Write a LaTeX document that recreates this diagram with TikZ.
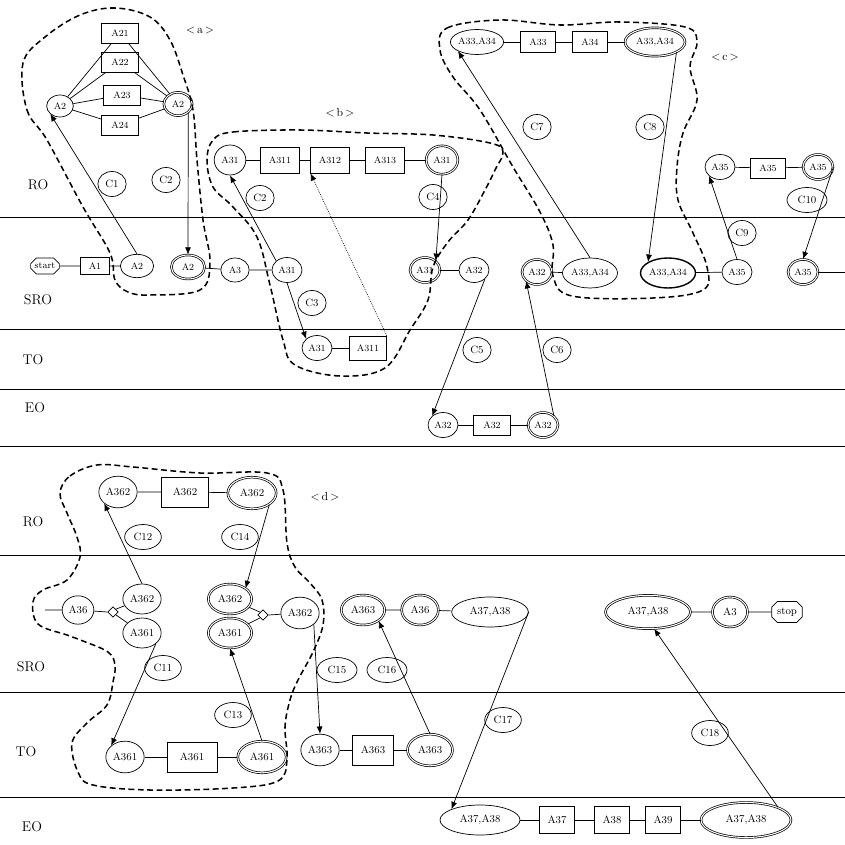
\documentclass[tikz,border=0pt]{standalone}
\usepackage{tikz}
\usetikzlibrary{arrows.meta, shapes.geometric, shapes.misc}

\tikzset{
  st/.style={draw, ellipse, inner sep=0pt, minimum width=0.9cm, minimum height=0.75cm, font=\footnotesize},
  dst/.style={st, double, double distance=0.9pt},
  act/.style={draw, rectangle, inner sep=1pt, minimum width=1.15cm, minimum height=0.65cm, font=\footnotesize},
  term/.style={draw, chamfered rectangle, chamfered rectangle xsep=2pt, inner sep=1.5pt, font=\footnotesize},
  cnd/.style={draw, ellipse, inner sep=0pt, minimum width=0.85cm, minimum height=0.75cm, font=\small},
  jn/.style={draw, diamond, inner sep=0pt, minimum size=0.32cm},
  lane/.style={font=\large},
  grp/.style={font=\normalsize},
  bnd/.style={line width=1.3pt, dash pattern=on 5pt off 3pt},
  cnx/.style={->, semithick},
  big/.style={minimum width=1.15cm, minimum height=0.95cm, font=\small},
  bigact/.style={minimum width=1.4cm, minimum height=0.9cm, font=\small},
}

\begin{document}
\begin{tikzpicture}[x=0.03cm, y=-0.03cm, semithick, >={Latex[length=2.2mm, width=1.8mm]}]
  \useasboundingbox (0,0) rectangle (845,844);

  % swim lanes
  \foreach \yy in {217, 329, 389, 446, 555, 692, 797}
    \draw[semithick] (0,\yy) -- (845,\yy);

  \node[lane] (ro1) at (38,185) {RO};
  \node[lane] (sro1) at (38,300) {SRO};
  \node[lane] (to1) at (33,360) {TO};
  \node[lane] (eo1) at (35,408) {EO};
  \node[lane] (ro2) at (33,522) {RO};
  \node[lane] (sro2) at (31,667) {SRO};
  \node[lane] (to2) at (26,752) {TO};
  \node[lane] (eo2) at (32,827) {EO};

  % upper part, SRO
  \node[term] (start) at (45,266) {start};
  \node[act, minimum width=0.85cm, minimum height=0.52cm] (a1) at (95,266) {A1};
  \node[st, minimum width=1cm, minimum height=0.7cm] (a2s) at (137,266) {A2};
  \node[dst, minimum width=1cm, minimum height=0.72cm] (a2ds) at (188,267) {A2};
  \node[st, minimum width=0.85cm, minimum height=0.72cm] (a3s) at (235,270) {A3};
  \node[st] (a31s) at (287,270) {A31};
  \node[dst] (a31ds) at (425,270) {A31};
  \node[st] (a32s) at (474,270) {A32};
  \node[dst] (a32ds) at (537,272) {A32};
  \node[st, minimum width=1.65cm, minimum height=0.9cm] (a3334s) at (590,273) {A33,A34};
  \node[st, very thick, minimum width=1.65cm, minimum height=0.9cm] (a3334ts) at (668,273) {A33,A34};
  \node[st] (a35s) at (737,272) {A35};
  \node[dst] (a35ds) at (803,272) {A35};
  \coordinate (out1) at (845,272);

  \draw (start) -- (a1) -- (a2s);
  \draw (a2ds) -- (a3s) -- (a31s);
  \draw (a31ds) -- (a32s);
  \draw (a32ds) -- (a3334s);
  \draw (a3334ts) -- (a35s);
  \draw (a35ds) -- (out1);

  % upper part, RO
  \node[st, minimum width=0.8cm, minimum height=0.66cm] (a2r) at (60,106) {A2};
  \node[act, minimum width=1.1cm, minimum height=0.6cm] (a21) at (120,33) {A21};
  \node[act, minimum width=1.1cm, minimum height=0.6cm] (a22) at (120,62) {A22};
  \node[act, minimum width=1.1cm, minimum height=0.6cm] (a23) at (122,95) {A23};
  \node[act, minimum width=1.1cm, minimum height=0.6cm] (a24) at (120,125) {A24};
  \node[dst, minimum width=0.85cm, minimum height=0.7cm] (a2dr) at (178,104) {A2};
  \foreach \n in {a21, a22, a23, a24}
    \draw (a2r) -- (\n) -- (a2dr);

  \node[st, minimum width=0.95cm, minimum height=0.9cm] (a31r) at (230,160) {A31};
  \node[act, minimum height=0.78cm] (a311r) at (280,160) {A311};
  \node[act, minimum height=0.78cm] (a312r) at (330,160) {A312};
  \node[act, minimum height=0.78cm] (a313r) at (385,160) {A313};
  \node[dst, minimum width=0.95cm, minimum height=0.85cm] (a31dr) at (442,160) {A31};
  \draw (a31r) -- (a311r) -- (a312r) -- (a313r) -- (a31dr);

  \node[st, minimum width=1.5cm, minimum height=0.75cm] (a3334r) at (477,42) {A33,A34};
  \node[act, minimum width=1.05cm, minimum height=0.65cm] (a33r) at (538,42) {A33};
  \node[act, minimum width=1.05cm, minimum height=0.65cm] (a34r) at (590,42) {A34};
  \node[dst, minimum width=1.8cm, minimum height=0.85cm] (a3334dr) at (655,42) {A33,A34};
  \draw (a3334r) -- (a33r) -- (a34r) -- (a3334dr);

  \node[st] (a35r) at (720,167) {A35};
  \node[act, minimum width=1.05cm, minimum height=0.6cm] (a35b) at (768,168) {A35};
  \node[dst] (a35dr) at (818,167) {A35};
  \draw (a35r) -- (a35b) -- (a35dr);

  % upper part, TO and EO
  \node[st] (a31t) at (317,348) {A31};
  \node[act, minimum width=1.1cm, minimum height=0.72cm] (a311t) at (368,348) {A311};
  \draw (a31t) -- (a311t);
  \node[st] (a32e) at (443,425) {A32};
  \node[act, minimum width=1.1cm, minimum height=0.6cm] (a32b) at (492,425) {A32};
  \node[dst] (a32de) at (543,425) {A32};
  \draw (a32e) -- (a32b) -- (a32de);

  % upper part, conditions
  \node[cnd] (c1) at (112,184) {C1};
  \node[cnd] (c2) at (166,180) {C2};
  \node[cnd] (c2b) at (260,198) {C2};
  \node[cnd] (c3) at (312,303) {C3};
  \node[cnd] (c4) at (433,197) {C4};
  \node[cnd] (c5) at (477,350) {C5};
  \node[cnd] (c6) at (557,350) {C6};
  \node[cnd] (c7) at (537,127) {C7};
  \node[cnd] (c8) at (650,127) {C8};
  \node[cnd] (c9) at (742,233) {C9};
  \node[cnd, minimum width=1.2cm] (c10) at (807,200) {C10};

  \draw[cnx] (a2s.north) -- (a2r.south west);
  \draw[cnx] (a2dr.south east) -- (a2ds.north);
  \draw[cnx] (a31s.north west) -- (a31r.south);
  \draw[cnx] (a31s.south) -- (a31t.north west);
  \draw[->, densely dotted, semithick] (a311t.north east) -- (a312r.south west);
  \draw[cnx] (a31dr.south) -- (a31ds.north east);
  \draw[cnx] (a32s.south east) -- (a32e.north west);
  \draw[cnx] (a32de.north east) -- (a32ds.south west);
  \draw[cnx] (a3334s.north) -- (a3334r.south west);
  \draw[cnx] (a3334dr.south east) -- (a3334ts.north west);
  \draw[cnx] (a35s.north) -- (a35r.south west);
  \draw[cnx] (a35dr.east) -- (a35ds.north);

  % groups
  \node[grp] (ga) at (200,31) {<\,a\,>};
  \node[grp] (gb) at (340,113) {<\,b\,>};
  \node[grp] (gc) at (725,58) {<\,c\,>};
  \node[grp] (gd) at (325,497) {<\,d\,>};

  \draw[bnd] plot[smooth cycle, tension=0.6] coordinates {(23,63) (27,110) (47,140) (83,207) (110,253)
    (115,280) (128,292) (150,295) (200,290) (210,262) (203,220) (197,160) (193,110) (183,75)
    (170,40) (150,17) (115,8) (80,15) (45,37)};
  \draw[bnd] plot[smooth cycle, tension=0.6] coordinates {(213,140) (233,132) (300,130) (367,133)
    (433,135) (490,143) (503,152) (495,170) (485,190) (468,220) (448,242) (433,267) (428,300)
    (410,330) (385,368) (340,376) (295,365) (283,340) (270,285) (257,237) (233,207) (213,187)
    (207,160)};
  \draw[bnd] plot[smooth cycle, tension=0.6] coordinates {(440,50) (447,28) (500,20) (560,25)
    (620,22) (685,27) (697,42) (690,67) (697,100) (683,133) (677,167) (678,200) (693,233)
    (707,267) (703,290) (653,298) (572,296) (553,276) (553,245) (540,212) (513,167) (480,110)
    (453,77)};

  % lower part, RO
  \node[st, big] (a362r) at (118,492) {A362};
  \node[act, bigact] (a362b) at (185,492) {A362};
  \node[dst, big, minimum width=1.45cm] (a362dr) at (252,493) {A362};
  \draw (a362r) -- (a362b) -- (a362dr);

  % lower part, SRO
  \coordinate (in2) at (45,610);
  \node[st, big, minimum width=0.95cm, minimum height=0.85cm] (a36s) at (78,610) {A36};
  \node[jn] (j1) at (113,612) {};
  \node[st, big, minimum height=0.9cm] (a362s) at (142,599) {A362};
  \node[st, big, minimum height=0.9cm] (a361s) at (142,633) {A361};
  \node[dst, big, minimum width=1.3cm, minimum height=0.9cm] (a362ds) at (230,599) {A362};
  \node[dst, big, minimum width=1.3cm, minimum height=0.9cm] (a361ds) at (230,633) {A361};
  \node[jn] (j2) at (263,615) {};
  \node[st, big] (a362m) at (300,613) {A362};
  \node[dst, big, minimum width=1.3cm, minimum height=0.9cm] (a363ds) at (363,610) {A363};
  \node[dst, big, minimum width=1.1cm, minimum height=0.9cm] (a36ds) at (420,610) {A36};
  \node[st, big, minimum width=2.3cm, minimum height=0.9cm] (a3738s) at (490,612) {A37,A38};
  \node[dst, big, minimum width=2.55cm, minimum height=1cm] (a3738ds) at (648,612) {A37,A38};
  \node[dst, big, minimum width=1.05cm, minimum height=0.9cm] (a3ds) at (730,612) {A3};
  \node[term, font=\small, inner sep=2.5pt] (stop) at (787,612) {stop};

  \draw (in2) -- (a36s) -- (j1.west);
  \draw (j1.north east) -- (a362s);
  \draw (j1.south east) -- (a361s);
  \draw (a362ds) -- (j2.north west);
  \draw (a361ds) -- (j2.south west);
  \draw (j2.east) -- (a362m);
  \draw (a363ds) -- (a36ds) -- (a3738s);
  \draw (a3738ds) -- (a3ds) -- (stop);

  % lower part, TO and EO
  \node[st, big] (a361t) at (125,757) {A361};
  \node[act, bigact, minimum width=1.5cm] (a361b) at (192,757) {A361};
  \node[dst, big, minimum width=1.45cm] (a361dt) at (262,757) {A361};
  \draw (a361t) -- (a361b) -- (a361dt);
  \node[st, big] (a363t) at (320,750) {A363};
  \node[act, bigact, minimum width=1.25cm] (a363b) at (373,750) {A363};
  \node[dst, big, minimum width=1.35cm] (a363dt) at (430,750) {A363};
  \draw (a363t) -- (a363b) -- (a363dt);

  \node[st, big, minimum width=2.4cm, minimum height=0.9cm] (a3738e) at (480,820) {A37,A38};
  \node[act, bigact, minimum width=1.05cm, minimum height=0.8cm] (a37b) at (557,820) {A37};
  \node[act, bigact, minimum width=1.05cm, minimum height=0.8cm] (a38b) at (612,820) {A38};
  \node[act, bigact, minimum width=1.05cm, minimum height=0.8cm] (a39b) at (663,820) {A39};
  \node[dst, big, minimum width=2.7cm, minimum height=1.05cm] (a3738de) at (746,820) {A37,A38};
  \draw (a3738e) -- (a37b) -- (a38b) -- (a39b) -- (a3738de);

  % lower part, conditions
  \node[cnd, minimum width=1.1cm] (c12) at (143,537) {C12};
  \node[cnd, minimum width=1.1cm] (c14) at (240,537) {C14};
  \node[cnd, minimum width=1.1cm] (c11) at (163,668) {C11};
  \node[cnd, minimum width=1.1cm] (c13) at (233,715) {C13};
  \node[cnd, minimum width=1.2cm] (c15) at (337,670) {C15};
  \node[cnd, minimum width=1.2cm] (c16) at (387,670) {C16};
  \node[cnd, minimum width=1.1cm] (c17) at (503,720) {C17};
  \node[cnd, minimum width=1.1cm] (c18) at (710,733) {C18};

  \draw[cnx] (a362s.north) -- (a362r.south west);
  \draw[cnx] (a362dr.south east) -- (a362ds.north east);
  \draw[cnx] (a361s.south east) -- (a361t.north west);
  \draw[cnx] (a361dt.north) -- (a361ds.south);
  \draw[cnx] (a362m.south east) -- (a363t.north);
  \draw[cnx] (a363dt.north) -- (a363ds.south east);
  \draw[cnx] (a3738s.east) -- (a3738e.north west);
  \draw[cnx] (a3738de.north east) -- (a3738ds.-70);

  \draw[bnd] plot[smooth cycle, tension=0.6] coordinates {(60,493) (70,476) (97,465) (133,467)
    (200,473) (267,473) (283,490) (287,543) (295,567) (310,583) (322,600) (323,625) (313,652)
    (298,680) (290,700) (285,727) (287,760) (278,781) (233,788) (150,790) (93,785) (78,772)
    (72,743) (87,723) (107,705) (113,682) (115,665) (108,652) (83,641) (67,635) (38,624)
    (33,602) (43,590) (67,580) (80,557) (77,537) (67,513)};
\end{tikzpicture}
\end{document}
